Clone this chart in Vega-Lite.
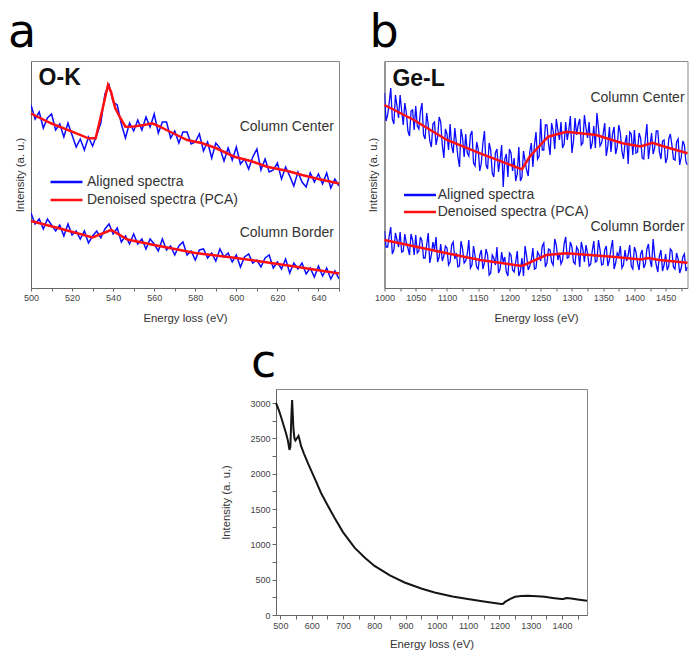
{
"$schema": "https://vega.github.io/schema/vega-lite/v6.json",
"background": "white",
"padding": {"left": 7, "top": 9, "right": 0, "bottom": 0},
"config": {
  "font": "Liberation Sans",
  "view": {"stroke": "#888", "strokeWidth": 1},
  "axis": {"domainColor": "#666", "tickColor": "#666", "labelColor": "#444", "titleColor": "#333", "labelFontSize": 9, "titleFontSize": 11.4, "titleFontWeight": "normal", "grid": false, "tickSize": 3, "labelFlush": false, "labelPadding": 2, "labelFont": "Liberation Sans", "titleFont": "Liberation Sans", "format": "d"},
  "title": {"anchor": "start", "frame": "group", "fontSize": 46, "font": "DejaVu Sans", "fontWeight": "normal", "color": "#000", "offset": 4}
},
"datasets": {
  "aCb": [{"E":500,"I":183},{"E":502,"I":169},{"E":504,"I":176},{"E":506,"I":160},{"E":508,"I":170},{"E":510,"I":174},{"E":512,"I":158},{"E":514,"I":164},{"E":516,"I":151},{"E":518,"I":165},{"E":520,"I":153},{"E":522,"I":141},{"E":524,"I":149},{"E":526,"I":138},{"E":528,"I":151},{"E":530,"I":142},{"E":532,"I":153},{"E":534,"I":165},{"E":536,"I":194},{"E":538,"I":203},{"E":540,"I":186},{"E":542,"I":183},{"E":544,"I":164},{"E":546,"I":150},{"E":548,"I":165},{"E":550,"I":157},{"E":552,"I":168},{"E":554,"I":158},{"E":556,"I":171},{"E":558,"I":161},{"E":560,"I":174},{"E":562,"I":155},{"E":564,"I":166},{"E":566,"I":166},{"E":568,"I":150},{"E":570,"I":157},{"E":572,"I":145},{"E":574,"I":156},{"E":576,"I":156},{"E":578,"I":144},{"E":580,"I":146},{"E":582,"I":154},{"E":584,"I":137},{"E":586,"I":146},{"E":588,"I":130},{"E":590,"I":145},{"E":592,"I":140},{"E":594,"I":127},{"E":596,"I":140},{"E":598,"I":128},{"E":600,"I":141},{"E":602,"I":124},{"E":604,"I":129},{"E":606,"I":119},{"E":608,"I":131},{"E":610,"I":139},{"E":612,"I":118},{"E":614,"I":129},{"E":616,"I":116},{"E":618,"I":118},{"E":620,"I":125},{"E":622,"I":109},{"E":624,"I":121},{"E":626,"I":112},{"E":628,"I":102},{"E":630,"I":116},{"E":632,"I":106},{"E":634,"I":101},{"E":636,"I":115},{"E":638,"I":106},{"E":640,"I":114},{"E":642,"I":104},{"E":644,"I":115},{"E":646,"I":100},{"E":648,"I":109},{"E":650,"I":102}],
  "aBb": [{"E":500,"I":75},{"E":502,"I":64},{"E":504,"I":69},{"E":506,"I":59},{"E":508,"I":69},{"E":510,"I":63},{"E":512,"I":57},{"E":514,"I":63},{"E":516,"I":52},{"E":518,"I":64},{"E":520,"I":53},{"E":522,"I":57},{"E":524,"I":49},{"E":526,"I":57},{"E":528,"I":45},{"E":530,"I":52},{"E":532,"I":57},{"E":534,"I":50},{"E":536,"I":59},{"E":538,"I":64},{"E":540,"I":54},{"E":542,"I":60},{"E":544,"I":46},{"E":546,"I":52},{"E":548,"I":44},{"E":550,"I":54},{"E":552,"I":44},{"E":554,"I":49},{"E":556,"I":39},{"E":558,"I":49},{"E":560,"I":44},{"E":562,"I":37},{"E":564,"I":49},{"E":566,"I":38},{"E":568,"I":42},{"E":570,"I":33},{"E":572,"I":42},{"E":574,"I":46},{"E":576,"I":33},{"E":578,"I":37},{"E":580,"I":28},{"E":582,"I":38},{"E":584,"I":39},{"E":586,"I":30},{"E":588,"I":35},{"E":590,"I":27},{"E":592,"I":39},{"E":594,"I":31},{"E":596,"I":35},{"E":598,"I":26},{"E":600,"I":33},{"E":602,"I":21},{"E":604,"I":31},{"E":606,"I":34},{"E":608,"I":25},{"E":610,"I":28},{"E":612,"I":21},{"E":614,"I":30},{"E":616,"I":33},{"E":618,"I":20},{"E":620,"I":26},{"E":622,"I":19},{"E":624,"I":29},{"E":626,"I":15},{"E":628,"I":25},{"E":630,"I":19},{"E":632,"I":25},{"E":634,"I":14},{"E":636,"I":20},{"E":638,"I":11},{"E":640,"I":22},{"E":642,"I":12},{"E":644,"I":20},{"E":646,"I":9},{"E":648,"I":17},{"E":650,"I":9}],
  "aCr": [{"E":500,"I":174.5},{"E":510,"I":164.5},{"E":520,"I":156.3},{"E":528,"I":149.7},{"E":531.5,"I":149.7},{"E":534.5,"I":176},{"E":537.5,"I":203},{"E":539,"I":196},{"E":541,"I":180},{"E":543.5,"I":170},{"E":546,"I":161.3},{"E":550,"I":161.5},{"E":555,"I":163},{"E":559,"I":164.7},{"E":562,"I":162},{"E":566,"I":158},{"E":576,"I":148},{"E":583,"I":145},{"E":590,"I":140},{"E":599,"I":131.3},{"E":607,"I":127},{"E":615,"I":121.3},{"E":625,"I":117},{"E":632,"I":113},{"E":640,"I":109},{"E":650,"I":104.5}],
  "aBr": [{"E":500,"I":67},{"E":515,"I":59},{"E":530,"I":50.5},{"E":539,"I":58},{"E":547,"I":48.5},{"E":560,"I":43},{"E":580,"I":35},{"E":600,"I":30},{"E":612,"I":26.5},{"E":630,"I":21},{"E":650,"I":14.5}],
  "aHead": [{"E":503.7,"I":210,"t":"O-K"}],
  "aLab": [{"E":647.5,"I":161,"t":"Column Center"},{"E":647.5,"I":55,"t":"Column Border"}],
  "bCb": [{"E":1000,"I":195},{"E":1005,"I":173},{"E":1010,"I":200},{"E":1015,"I":164},{"E":1020,"I":182},{"E":1025,"I":193},{"E":1030,"I":163},{"E":1035,"I":175},{"E":1040,"I":152},{"E":1045,"I":178},{"E":1050,"I":182},{"E":1055,"I":159},{"E":1060,"I":185},{"E":1065,"I":149},{"E":1070,"I":163},{"E":1075,"I":141},{"E":1080,"I":166},{"E":1085,"I":151},{"E":1090,"I":166},{"E":1095,"I":130},{"E":1100,"I":154},{"E":1105,"I":164},{"E":1110,"I":135},{"E":1115,"I":146},{"E":1120,"I":121},{"E":1125,"I":150},{"E":1130,"I":154},{"E":1135,"I":132},{"E":1140,"I":157},{"E":1145,"I":122},{"E":1150,"I":139},{"E":1155,"I":125},{"E":1160,"I":157},{"E":1165,"I":119},{"E":1170,"I":138},{"E":1175,"I":111},{"E":1180,"I":139},{"E":1185,"I":128},{"E":1190,"I":101},{"E":1195,"I":134},{"E":1200,"I":139},{"E":1205,"I":117},{"E":1210,"I":107},{"E":1215,"I":141},{"E":1220,"I":111},{"E":1225,"I":127},{"E":1230,"I":112},{"E":1235,"I":145},{"E":1240,"I":143},{"E":1245,"I":129},{"E":1250,"I":169},{"E":1255,"I":138},{"E":1260,"I":163},{"E":1265,"I":133},{"E":1270,"I":157},{"E":1275,"I":169},{"E":1280,"I":148},{"E":1285,"I":140},{"E":1290,"I":166},{"E":1295,"I":158},{"E":1300,"I":135},{"E":1305,"I":170},{"E":1310,"I":163},{"E":1315,"I":143},{"E":1320,"I":173},{"E":1325,"I":150},{"E":1330,"I":139},{"E":1335,"I":162},{"E":1340,"I":175},{"E":1345,"I":142},{"E":1350,"I":154},{"E":1355,"I":132},{"E":1360,"I":161},{"E":1365,"I":154},{"E":1370,"I":134},{"E":1375,"I":163},{"E":1380,"I":137},{"E":1385,"I":145},{"E":1390,"I":124},{"E":1395,"I":154},{"E":1400,"I":158},{"E":1405,"I":136},{"E":1410,"I":150},{"E":1415,"I":129},{"E":1420,"I":164},{"E":1425,"I":142},{"E":1430,"I":134},{"E":1435,"I":157},{"E":1440,"I":136},{"E":1445,"I":147},{"E":1450,"I":125},{"E":1455,"I":149},{"E":1460,"I":143},{"E":1465,"I":128},{"E":1470,"I":149},{"E":1475,"I":131},{"E":1480,"I":143},{"E":1485,"I":123},
    {"E":1002.5,"I":167},{"E":1007.5,"I":185},{"E":1012.5,"I":169},{"E":1017.5,"I":193},{"E":1022.5,"I":170},{"E":1027.5,"I":177},{"E":1032.5,"I":185},{"E":1037.5,"I":157},{"E":1042.5,"I":177},{"E":1047.5,"I":158},{"E":1052.5,"I":162},{"E":1057.5,"I":177},{"E":1062.5,"I":153},{"E":1067.5,"I":175},{"E":1072.5,"I":147},{"E":1077.5,"I":164},{"E":1082.5,"I":143},{"E":1087.5,"I":171},{"E":1092.5,"I":143},{"E":1097.5,"I":159},{"E":1102.5,"I":138},{"E":1107.5,"I":142},{"E":1112.5,"I":160},{"E":1117.5,"I":131},{"E":1122.5,"I":159},{"E":1127.5,"I":131},{"E":1132.5,"I":135},{"E":1137.5,"I":153},{"E":1142.5,"I":125},{"E":1147.5,"I":146},{"E":1152.5,"I":117},{"E":1157.5,"I":145},{"E":1162.5,"I":123},{"E":1167.5,"I":145},{"E":1172.5,"I":115},{"E":1177.5,"I":135},{"E":1182.5,"I":116},{"E":1187.5,"I":143},{"E":1192.5,"I":129},{"E":1197.5,"I":111},{"E":1202.5,"I":135},{"E":1207.5,"I":130},{"E":1212.5,"I":114},{"E":1217.5,"I":107},{"E":1222.5,"I":137},{"E":1227.5,"I":118},{"E":1232.5,"I":136},{"E":1237.5,"I":121},{"E":1242.5,"I":156},{"E":1247.5,"I":132},{"E":1252.5,"I":138},{"E":1257.5,"I":163},{"E":1262.5,"I":145},{"E":1267.5,"I":165},{"E":1272.5,"I":139},{"E":1277.5,"I":158},{"E":1282.5,"I":166},{"E":1287.5,"I":144},{"E":1292.5,"I":148},{"E":1297.5,"I":172},{"E":1302.5,"I":147},{"E":1307.5,"I":153},{"E":1312.5,"I":169},{"E":1317.5,"I":145},{"E":1322.5,"I":160},{"E":1327.5,"I":166},{"E":1332.5,"I":145},{"E":1337.5,"I":140},{"E":1342.5,"I":160},{"E":1347.5,"I":145},{"E":1352.5,"I":165},{"E":1357.5,"I":142},{"E":1362.5,"I":136},{"E":1367.5,"I":161},{"E":1372.5,"I":141},{"E":1377.5,"I":155},{"E":1382.5,"I":129},{"E":1387.5,"I":153},{"E":1392.5,"I":156},{"E":1397.5,"I":133},{"E":1402.5,"I":135},{"E":1407.5,"I":155},{"E":1412.5,"I":130},{"E":1417.5,"I":149},{"E":1422.5,"I":129},{"E":1427.5,"I":155},{"E":1432.5,"I":140},{"E":1437.5,"I":157},{"E":1442.5,"I":129},{"E":1447.5,"I":148},{"E":1452.5,"I":130},{"E":1457.5,"I":154},{"E":1462.5,"I":129},{"E":1467.5,"I":146},{"E":1472.5,"I":123},{"E":1477.5,"I":147},{"E":1482.5,"I":126}],
  "bBb": [{"E":1000,"I":57},{"E":1005,"I":41},{"E":1010,"I":61},{"E":1015,"I":38},{"E":1020,"I":48},{"E":1025,"I":56},{"E":1030,"I":37},{"E":1035,"I":45},{"E":1040,"I":33},{"E":1045,"I":48},{"E":1050,"I":53},{"E":1055,"I":37},{"E":1060,"I":47},{"E":1065,"I":30},{"E":1070,"I":55},{"E":1075,"I":33},{"E":1080,"I":38},{"E":1085,"I":26},{"E":1090,"I":44},{"E":1095,"I":32},{"E":1100,"I":40},{"E":1105,"I":26},{"E":1110,"I":46},{"E":1115,"I":35},{"E":1120,"I":22},{"E":1125,"I":39},{"E":1130,"I":27},{"E":1135,"I":48},{"E":1140,"I":23},{"E":1145,"I":32},{"E":1150,"I":19},{"E":1155,"I":38},{"E":1160,"I":25},{"E":1165,"I":33},{"E":1170,"I":15},{"E":1175,"I":30},{"E":1180,"I":41},{"E":1185,"I":19},{"E":1190,"I":26},{"E":1195,"I":16},{"E":1200,"I":35},{"E":1205,"I":18},{"E":1210,"I":26},{"E":1215,"I":12},{"E":1220,"I":30},{"E":1225,"I":42},{"E":1230,"I":18},{"E":1235,"I":28},{"E":1240,"I":19},{"E":1245,"I":36},{"E":1250,"I":27},{"E":1255,"I":45},{"E":1260,"I":25},{"E":1265,"I":38},{"E":1270,"I":23},{"E":1275,"I":43},{"E":1280,"I":35},{"E":1285,"I":28},{"E":1290,"I":51},{"E":1295,"I":31},{"E":1300,"I":41},{"E":1305,"I":24},{"E":1310,"I":38},{"E":1315,"I":46},{"E":1320,"I":26},{"E":1325,"I":35},{"E":1330,"I":24},{"E":1335,"I":47},{"E":1340,"I":27},{"E":1345,"I":38},{"E":1350,"I":24},{"E":1355,"I":42},{"E":1360,"I":28},{"E":1365,"I":48},{"E":1370,"I":25},{"E":1375,"I":32},{"E":1380,"I":20},{"E":1385,"I":38},{"E":1390,"I":33},{"E":1395,"I":22},{"E":1400,"I":41},{"E":1405,"I":25},{"E":1410,"I":34},{"E":1415,"I":20},{"E":1420,"I":39},{"E":1425,"I":28},{"E":1430,"I":49},{"E":1435,"I":23},{"E":1440,"I":32},{"E":1445,"I":17},{"E":1450,"I":34},{"E":1455,"I":22},{"E":1460,"I":37},{"E":1465,"I":19},{"E":1470,"I":29},{"E":1475,"I":20},{"E":1480,"I":34},{"E":1485,"I":21},
    {"E":1002.5,"I":41},{"E":1007.5,"I":52},{"E":1012.5,"I":34},{"E":1017.5,"I":55},{"E":1022.5,"I":41},{"E":1027.5,"I":36},{"E":1032.5,"I":54},{"E":1037.5,"I":40},{"E":1042.5,"I":54},{"E":1047.5,"I":33},{"E":1052.5,"I":35},{"E":1057.5,"I":51},{"E":1062.5,"I":30},{"E":1067.5,"I":43},{"E":1072.5,"I":25},{"E":1077.5,"I":46},{"E":1082.5,"I":51},{"E":1087.5,"I":31},{"E":1092.5,"I":27},{"E":1097.5,"I":42},{"E":1102.5,"I":23},{"E":1107.5,"I":43},{"E":1112.5,"I":29},{"E":1117.5,"I":21},{"E":1122.5,"I":47},{"E":1127.5,"I":25},{"E":1132.5,"I":34},{"E":1137.5,"I":20},{"E":1142.5,"I":42},{"E":1147.5,"I":21},{"E":1152.5,"I":33},{"E":1157.5,"I":19},{"E":1162.5,"I":39},{"E":1167.5,"I":13},{"E":1172.5,"I":33},{"E":1177.5,"I":23},{"E":1182.5,"I":15},{"E":1187.5,"I":36},{"E":1192.5,"I":31},{"E":1197.5,"I":12},{"E":1202.5,"I":33},{"E":1207.5,"I":16},{"E":1212.5,"I":37},{"E":1217.5,"I":17},{"E":1222.5,"I":12},{"E":1227.5,"I":32},{"E":1232.5,"I":22},{"E":1237.5,"I":40},{"E":1242.5,"I":20},{"E":1247.5,"I":33},{"E":1252.5,"I":42},{"E":1257.5,"I":21},{"E":1262.5,"I":39},{"E":1267.5,"I":26},{"E":1272.5,"I":49},{"E":1277.5,"I":28},{"E":1282.5,"I":24},{"E":1287.5,"I":44},{"E":1292.5,"I":30},{"E":1297.5,"I":46},{"E":1302.5,"I":26},{"E":1307.5,"I":41},{"E":1312.5,"I":21},{"E":1317.5,"I":39},{"E":1322.5,"I":43},{"E":1327.5,"I":22},{"E":1332.5,"I":37},{"E":1337.5,"I":26},{"E":1342.5,"I":48},{"E":1347.5,"I":23},{"E":1352.5,"I":38},{"E":1357.5,"I":22},{"E":1362.5,"I":39},{"E":1367.5,"I":19},{"E":1372.5,"I":35},{"E":1377.5,"I":42},{"E":1382.5,"I":23},{"E":1387.5,"I":27},{"E":1392.5,"I":43},{"E":1397.5,"I":19},{"E":1402.5,"I":36},{"E":1407.5,"I":18},{"E":1412.5,"I":38},{"E":1417.5,"I":24},{"E":1422.5,"I":44},{"E":1427.5,"I":21},{"E":1432.5,"I":32},{"E":1437.5,"I":16},{"E":1442.5,"I":38},{"E":1447.5,"I":23},{"E":1452.5,"I":18},{"E":1457.5,"I":39},{"E":1462.5,"I":21},{"E":1467.5,"I":35},{"E":1472.5,"I":15},{"E":1477.5,"I":31},{"E":1482.5,"I":17}],
  "bCr": [{"E":1000,"I":183},{"E":1047,"I":168},{"E":1100,"I":148},{"E":1153,"I":134.7},{"E":1206,"I":122},{"E":1220,"I":118.7},{"E":1232,"I":131},{"E":1245,"I":140},{"E":1262,"I":151.3},{"E":1291,"I":156.3},{"E":1339,"I":153},{"E":1381,"I":144.7},{"E":1410,"I":141.6},{"E":1429,"I":145.3},{"E":1450,"I":141},{"E":1485,"I":134.7}],
  "bBr": [{"E":1000,"I":48},{"E":1100,"I":34.7},{"E":1153,"I":28},{"E":1217,"I":22.3},{"E":1222,"I":22.5},{"E":1259,"I":33},{"E":1291,"I":34.7},{"E":1365,"I":31.3},{"E":1410,"I":28.5},{"E":1422,"I":30},{"E":1440,"I":28},{"E":1485,"I":25.3}],
  "bHead": [{"E":1012.7,"I":209,"t":"Ge-L"}],
  "bLab": [{"E":1329.6,"I":190.3,"t":"Column Center"},{"E":1329.6,"I":61.3,"t":"Column Border"}],
  "cS": [{"E":486,"I":3004},{"E":495,"I":2900},{"E":502,"I":2807},{"E":510,"I":2690},{"E":518,"I":2573},{"E":524,"I":2470},{"E":529,"I":2338},{"E":532,"I":2385},{"E":535,"I":2800},{"E":537.5,"I":3042},{"E":540,"I":2800},{"E":542,"I":2620},{"E":545,"I":2500},{"E":548,"I":2470},{"E":553,"I":2502},{"E":558,"I":2535},{"E":562,"I":2470},{"E":566,"I":2394},{"E":575,"I":2290},{"E":588,"I":2150},{"E":600,"I":2030},{"E":610,"I":1930},{"E":630,"I":1728},{"E":650,"I":1560},{"E":673,"I":1376},{"E":700,"I":1174},{"E":737,"I":953},{"E":770,"I":810},{"E":801,"I":695},{"E":850,"I":560},{"E":897,"I":460},{"E":950,"I":375},{"E":993,"I":319},{"E":1050,"I":262},{"E":1099,"I":225},{"E":1150,"I":190},{"E":1206,"I":155},{"E":1212,"I":160},{"E":1218,"I":185},{"E":1235,"I":228},{"E":1250,"I":258},{"E":1270,"I":268},{"E":1291,"I":272},{"E":1320,"I":266},{"E":1345,"I":258},{"E":1370,"I":242},{"E":1398,"I":225},{"E":1405,"I":226},{"E":1414,"I":239},{"E":1430,"I":232},{"E":1450,"I":220},{"E":1480,"I":202}],
  "blank": [{"k": 1}]
},
"resolve": {"scale": {"color": "independent"}},
"spacing": 15,
"vconcat": [
  {
    "hconcat": [
      {
        "width": 308, "height": 227,
        "title": {"text": "a", "dx": -23},
        "encoding": {
          "x": {"field": "E", "type": "quantitative", "scale": {"domain": [500, 650], "nice": false, "zero": false},
                "axis": {"title": "Energy loss (eV)", "values": [500,510,520,530,540,550,560,570,580,590,600,610,620,630,640,650], "labelExpr": "datum.value % 20 === 0 && datum.value < 650 ? datum.label : ''", "titlePadding": 10}},
          "y": {"field": "I", "type": "quantitative", "scale": {"domain": [0, 227], "nice": false, "zero": false},
                "axis": {"title": "Intensity (a. u.)", "labels": false, "ticks": false, "titlePadding": 6, "titleFontSize": 11.3}}
        },
        "layer": [
          {"data": {"name": "aCb"}, "mark": {"type": "line", "strokeWidth": 1.5, "clip": true},
           "encoding": {"color": {"datum": "Aligned spectra", "type": "nominal",
             "scale": {"domain": ["Aligned spectra", "Denoised spectra (PCA)"], "range": ["#0a0aff", "#ff1010"]},
             "legend": {"title": null, "orient": "none", "legendX": 28.5, "legendY": 114, "symbolType": "M-3.2,0H3.2", "symbolSize": 100, "symbolStrokeWidth": 2.5, "labelOffset": 13.5, "rowPadding": 4, "labelFontSize": 14, "labelColor": "#333", "labelFont": "Liberation Sans", "padding": 0}}}},
          {"data": {"name": "aBb"}, "mark": {"type": "line", "strokeWidth": 1.5, "clip": true},
           "encoding": {"color": {"datum": "Aligned spectra", "type": "nominal"}}},
          {"data": {"name": "aCr"}, "mark": {"type": "line", "strokeWidth": 2.5},
           "encoding": {"color": {"datum": "Denoised spectra (PCA)", "type": "nominal"}}},
          {"data": {"name": "aBr"}, "mark": {"type": "line", "strokeWidth": 2.5},
           "encoding": {"color": {"datum": "Denoised spectra (PCA)", "type": "nominal"}}},
          {"data": {"name": "aHead"}, "mark": {"type": "text", "align": "left", "baseline": "middle", "fontSize": 23, "fontWeight": "bold", "font": "Liberation Sans", "color": "#111"},
           "encoding": {"text": {"field": "t"}}},
          {"data": {"name": "aLab"}, "mark": {"type": "text", "align": "right", "baseline": "middle", "fontSize": 14, "font": "Liberation Sans", "color": "#333"},
           "encoding": {"text": {"field": "t"}}}
        ]
      },
      {
        "width": 303, "height": 227,
        "title": {"text": "b", "dx": -15},
        "encoding": {
          "x": {"field": "E", "type": "quantitative", "scale": {"domain": [1000, 1485], "nice": false, "zero": false},
                "axis": {"title": "Energy loss (eV)", "values": [1000,1025,1050,1075,1100,1125,1150,1175,1200,1225,1250,1275,1300,1325,1350,1375,1400,1425,1450,1475], "labelExpr": "datum.value % 50 === 0 ? datum.label : ''", "titlePadding": 10}},
          "y": {"field": "I", "type": "quantitative", "scale": {"domain": [0, 227], "nice": false, "zero": false},
                "axis": {"title": "Intensity (a. u.)", "labels": false, "ticks": false, "titlePadding": 6, "titleFontSize": 11.3}}
        },
        "layer": [
          {"data": {"name": "bCb"}, "mark": {"type": "line", "strokeWidth": 1.3, "clip": true},
           "encoding": {"color": {"datum": "Aligned spectra", "type": "nominal",
             "scale": {"domain": ["Aligned spectra", "Denoised spectra (PCA)"], "range": ["#0a0aff", "#ff1010"]},
             "legend": {"title": null, "orient": "none", "legendX": 28.5, "legendY": 127, "symbolType": "M-3.2,0H3.2", "symbolSize": 100, "symbolStrokeWidth": 2.5, "labelOffset": 10.7, "rowPadding": 3, "labelFontSize": 14, "labelColor": "#333", "labelFont": "Liberation Sans", "padding": 0}}}},
          {"data": {"name": "bBb"}, "mark": {"type": "line", "strokeWidth": 1.3, "clip": true},
           "encoding": {"color": {"datum": "Aligned spectra", "type": "nominal"}}},
          {"data": {"name": "bCr"}, "mark": {"type": "line", "strokeWidth": 2.5},
           "encoding": {"color": {"datum": "Denoised spectra (PCA)", "type": "nominal"}}},
          {"data": {"name": "bBr"}, "mark": {"type": "line", "strokeWidth": 2.5},
           "encoding": {"color": {"datum": "Denoised spectra (PCA)", "type": "nominal"}}},
          {"data": {"name": "bHead"}, "mark": {"type": "text", "align": "left", "baseline": "middle", "fontSize": 23, "fontWeight": "bold", "font": "Liberation Sans", "color": "#111"},
           "encoding": {"text": {"field": "t"}}},
          {"data": {"name": "bLab"}, "mark": {"type": "text", "align": "left", "baseline": "middle", "fontSize": 14, "font": "Liberation Sans", "color": "#333"},
           "encoding": {"text": {"field": "t"}}}
        ]
      }
    ],
    "spacing": 21.5,
    "resolve": {"scale": {"color": "independent"}}
  },
  {
    "hconcat": [
      {
        "width": 189, "height": 10,
        "view": {"stroke": null},
        "data": {"name": "blank"},
        "mark": {"type": "point", "opacity": 0},
        "encoding": {}
      },
      {
        "width": 311, "height": 226,
        "title": {"text": "c", "dx": -25, "offset": 2},
        "data": {"name": "cS"},
        "mark": {"type": "line", "strokeWidth": 2, "color": "#151515"},
        "encoding": {
          "x": {"field": "E", "type": "quantitative", "scale": {"domain": [486, 1480], "nice": false, "zero": false},
                "axis": {"title": "Energy loss (eV)", "values": [500,550,600,650,700,750,800,850,900,950,1000,1050,1100,1150,1200,1250,1300,1350,1400,1450], "labelExpr": "datum.value % 100 === 0 ? datum.label : ''", "tickSize": 4, "labelPadding": 2, "titlePadding": 8}},
          "y": {"field": "I", "type": "quantitative", "scale": {"domain": [0, 3200], "nice": false, "zero": false},
                "axis": {"title": "Intensity (a. u.)", "values": [0,250,500,750,1000,1250,1500,1750,2000,2250,2500,2750,3000], "labelExpr": "datum.value % 500 === 0 ? datum.label : ''", "tickSize": 4, "labelPadding": 2, "titlePadding": 18, "titleFontSize": 11.3}}
        }
      }
    ],
    "spacing": 0
  }
]
}
